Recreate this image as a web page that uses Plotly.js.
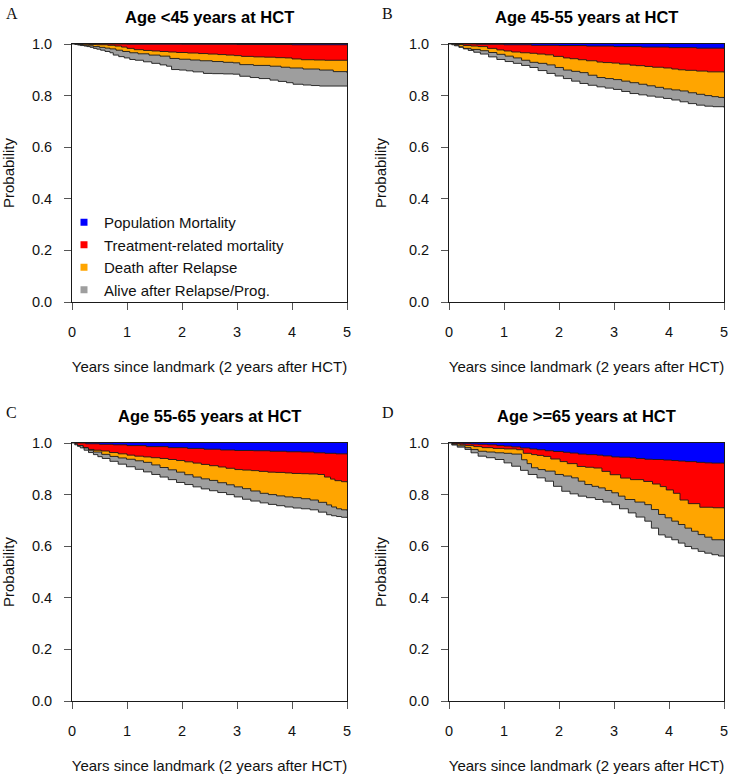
<!DOCTYPE html>
<html><head><meta charset="utf-8">
<script src="https://cdn.plot.ly/plotly-3.0.1.min.js"></script>
<style>html,body{margin:0;padding:0;background:#fff}#chart{width:730px;height:777px}</style>
</head><body><div id="chart"></div>
<script>
// ---- labels ----
const panelTitles = ['Age &lt;45 years at HCT', 'Age 45-55 years at HCT', 'Age 55-65 years at HCT', 'Age &gt;=65 years at HCT'];
const panelLetters = ['A', 'B', 'C', 'D'];
const legendLabels = ['Population Mortality', 'Treatment-related mortality', 'Death after Relapse', 'Alive after Relapse/Prog.'];
const xTickVals = [0, 1, 2, 3, 4, 5];
const yTickVals = [0, 0.2, 0.4, 0.6, 0.8, 1.0];
const yTickText = ['0.0', '0.2', '0.4', '0.6', '0.8', '1.0'];
const xTitle = 'Years since landmark (2 years after HCT)';
const yTitle = 'Probability';

// ---- Panel A: lower edges of the stacked bands (step curves) ----
const aPopT = [0, 1, 2, 3, 4, 5];
const aPopP = [1, 0.9995, 0.999, 0.998, 0.997, 0.997];
const aTrmT = [0, 0.15, 0.3, 0.45, 0.65, 0.78, 0.9, 1.0, 1.13, 1.3, 1.45, 1.6, 1.75, 1.9, 2.1, 2.3, 2.47, 2.65, 2.8, 2.95, 3.08, 3.3, 3.5, 3.7, 3.87, 4.0, 4.17, 4.4, 4.6, 5];
const aTrmP = [1, 0.999, 0.998, 0.997, 0.995, 0.992, 0.988, 0.983, 0.978, 0.975, 0.973, 0.971, 0.969, 0.967, 0.965, 0.963, 0.961, 0.959, 0.957, 0.955, 0.952, 0.950, 0.949, 0.947, 0.946, 0.942, 0.939, 0.938, 0.937, 0.937];
const aDarT = [0, 0.1, 0.2, 0.3, 0.39, 0.5, 0.6, 0.69, 0.8, 0.92, 1.05, 1.2, 1.4, 1.6, 1.78, 1.95, 2.15, 2.33, 2.55, 2.75, 2.93, 3.05, 3.3, 3.6, 3.8, 3.96, 4.2, 4.5, 4.75, 5];
const aDarP = [1, 0.998, 0.995, 0.993, 0.990, 0.987, 0.984, 0.981, 0.976, 0.971, 0.966, 0.962, 0.957, 0.953, 0.944, 0.941, 0.938, 0.935, 0.932, 0.929, 0.927, 0.920, 0.917, 0.914, 0.910, 0.907, 0.903, 0.899, 0.893, 0.888];
const aAlvT = [0, 0.05, 0.1, 0.15, 0.22, 0.27, 0.33, 0.39, 0.45, 0.52, 0.6, 0.69, 0.75, 0.85, 0.95, 1.05, 1.15, 1.3, 1.45, 1.6, 1.72, 1.81, 1.95, 2.08, 2.2, 2.39, 2.55, 2.75, 2.93, 3.05, 3.24, 3.4, 3.6, 3.75, 3.9, 4.02, 4.2, 4.35, 4.5, 5];
const aAlvP = [1, 0.998, 0.996, 0.994, 0.992, 0.990, 0.987, 0.983, 0.980, 0.976, 0.971, 0.966, 0.957, 0.951, 0.946, 0.940, 0.937, 0.931, 0.925, 0.919, 0.914, 0.901, 0.899, 0.896, 0.892, 0.886, 0.885, 0.884, 0.883, 0.875, 0.870, 0.866, 0.860, 0.855, 0.850, 0.844, 0.841, 0.839, 0.837, 0.837];

// ---- Panel B ----
const bPopT = [0, 0.5, 1, 1.5, 2, 2.5, 3, 3.5, 4, 4.5, 5];
const bPopP = [1, 0.999, 0.997, 0.995, 0.994, 0.992, 0.990, 0.988, 0.986, 0.984, 0.983];
const bTrmT = [0, 0.1, 0.26, 0.4, 0.53, 0.7, 0.87, 1.0, 1.14, 1.3, 1.47, 1.6, 1.75, 1.9, 2.08, 2.2, 2.35, 2.5, 2.69, 2.8, 2.96, 3.1, 3.29, 3.4, 3.56, 3.7, 3.9, 4.05, 4.17, 4.3, 4.5, 4.7, 5];
const bTrmP = [1, 0.998, 0.994, 0.992, 0.990, 0.983, 0.977, 0.973, 0.969, 0.966, 0.964, 0.961, 0.958, 0.952, 0.946, 0.943, 0.939, 0.935, 0.930, 0.928, 0.926, 0.922, 0.918, 0.916, 0.913, 0.910, 0.907, 0.903, 0.900, 0.898, 0.895, 0.892, 0.890];
const bDarT = [0, 0.05, 0.1, 0.18, 0.26, 0.4, 0.57, 0.72, 0.87, 1.02, 1.17, 1.32, 1.47, 1.62, 1.78, 1.93, 2.08, 2.23, 2.38, 2.53, 2.69, 2.84, 2.99, 3.14, 3.29, 3.45, 3.6, 3.75, 3.9, 4.05, 4.2, 4.35, 4.5, 4.65, 4.78, 4.9, 5];
const bDarP = [1, 0.997, 0.995, 0.989, 0.983, 0.979, 0.974, 0.967, 0.960, 0.953, 0.946, 0.937, 0.929, 0.925, 0.919, 0.909, 0.899, 0.894, 0.889, 0.879, 0.870, 0.866, 0.862, 0.856, 0.850, 0.844, 0.838, 0.832, 0.826, 0.822, 0.818, 0.811, 0.805, 0.800, 0.796, 0.793, 0.790];
const bAlvT = [0, 0.05, 0.1, 0.18, 0.26, 0.35, 0.45, 0.57, 0.72, 0.87, 1.02, 1.17, 1.32, 1.47, 1.62, 1.78, 1.93, 2.08, 2.23, 2.38, 2.53, 2.69, 2.84, 2.99, 3.14, 3.29, 3.45, 3.6, 3.75, 3.9, 4.05, 4.2, 4.35, 4.5, 4.65, 4.8, 5];
const bAlvP = [1, 0.997, 0.993, 0.987, 0.981, 0.975, 0.968, 0.961, 0.950, 0.940, 0.932, 0.925, 0.917, 0.909, 0.897, 0.886, 0.876, 0.866, 0.856, 0.847, 0.840, 0.834, 0.829, 0.824, 0.816, 0.808, 0.803, 0.798, 0.794, 0.789, 0.783, 0.776, 0.769, 0.763, 0.759, 0.757, 0.754];

// ---- Panel C ----
const cPopT = [0, 0.25, 0.5, 0.75, 1, 1.35, 1.75, 2.1, 2.4, 2.7, 2.96, 3.3, 3.6, 3.9, 4.17, 4.4, 4.6, 4.8, 5];
const cPopP = [1, 0.997, 0.995, 0.993, 0.990, 0.986, 0.982, 0.979, 0.976, 0.973, 0.971, 0.970, 0.968, 0.966, 0.965, 0.962, 0.960, 0.958, 0.957];
const cTrmT = [0, 0.05, 0.1, 0.2, 0.29, 0.4, 0.53, 0.68, 0.84, 1.0, 1.14, 1.3, 1.44, 1.6, 1.75, 1.9, 2.05, 2.2, 2.35, 2.5, 2.66, 2.8, 2.96, 3.1, 3.26, 3.4, 3.56, 3.7, 3.87, 4.0, 4.17, 4.3, 4.47, 4.59, 4.7, 4.78, 4.9, 5];
const cTrmP = [1, 0.996, 0.990, 0.982, 0.975, 0.972, 0.969, 0.963, 0.958, 0.953, 0.949, 0.946, 0.943, 0.940, 0.936, 0.932, 0.927, 0.922, 0.917, 0.912, 0.907, 0.902, 0.897, 0.895, 0.893, 0.890, 0.887, 0.886, 0.884, 0.882, 0.881, 0.880, 0.878, 0.868, 0.860, 0.854, 0.850, 0.848];
const cDarT = [0, 0.05, 0.1, 0.2, 0.3, 0.39, 0.54, 0.69, 0.84, 0.99, 1.15, 1.3, 1.45, 1.6, 1.75, 1.9, 2.05, 2.2, 2.35, 2.5, 2.65, 2.81, 2.95, 3.1, 3.25, 3.42, 3.57, 3.72, 3.87, 4.02, 4.17, 4.33, 4.48, 4.63, 4.72, 4.81, 4.9, 5];
const cDarP = [1, 0.995, 0.990, 0.981, 0.972, 0.965, 0.956, 0.948, 0.942, 0.937, 0.931, 0.925, 0.915, 0.905, 0.896, 0.887, 0.877, 0.868, 0.861, 0.855, 0.846, 0.838, 0.830, 0.823, 0.814, 0.805, 0.800, 0.795, 0.791, 0.788, 0.784, 0.779, 0.770, 0.760, 0.752, 0.745, 0.741, 0.738];
const cAlvT = [0, 0.05, 0.1, 0.15, 0.22, 0.3, 0.39, 0.47, 0.55, 0.69, 0.84, 0.99, 1.15, 1.3, 1.45, 1.6, 1.75, 1.9, 2.05, 2.2, 2.35, 2.5, 2.65, 2.81, 2.95, 3.1, 3.25, 3.42, 3.57, 3.72, 3.87, 4.02, 4.17, 4.33, 4.48, 4.63, 4.72, 4.81, 4.9, 5];
const cAlvP = [1, 0.993, 0.987, 0.981, 0.972, 0.963, 0.955, 0.947, 0.940, 0.929, 0.918, 0.908, 0.898, 0.888, 0.878, 0.868, 0.858, 0.847, 0.839, 0.830, 0.822, 0.815, 0.808, 0.800, 0.791, 0.782, 0.775, 0.768, 0.762, 0.757, 0.752, 0.748, 0.745, 0.741, 0.732, 0.722, 0.718, 0.715, 0.712, 0.710];

// ---- Panel D ----
const dPopT = [0, 0.13, 0.26, 0.4, 0.53, 0.7, 0.87, 1.0, 1.14, 1.3, 1.47, 1.6, 1.75, 1.9, 2.08, 2.2, 2.35, 2.5, 2.69, 2.8, 2.96, 3.1, 3.29, 3.4, 3.56, 3.7, 3.9, 4.05, 4.17, 4.3, 4.5, 4.65, 4.78, 5];
const dPopP = [1, 0.999, 0.997, 0.996, 0.995, 0.993, 0.990, 0.988, 0.985, 0.981, 0.977, 0.974, 0.970, 0.967, 0.964, 0.961, 0.957, 0.955, 0.953, 0.950, 0.946, 0.945, 0.943, 0.940, 0.937, 0.936, 0.934, 0.932, 0.930, 0.928, 0.925, 0.923, 0.922, 0.921];
const dTrmT = [0, 0.05, 0.1, 0.2, 0.3, 0.45, 0.6, 0.8, 1.0, 1.23, 1.35, 1.5, 1.6, 1.72, 1.85, 2.02, 2.15, 2.33, 2.48, 2.63, 2.78, 2.93, 3.12, 3.3, 3.54, 3.7, 3.84, 3.95, 4.08, 4.2, 4.35, 4.56, 4.8, 5];
const dTrmP = [1, 0.998, 0.996, 0.993, 0.990, 0.986, 0.982, 0.979, 0.977, 0.974, 0.960, 0.955, 0.952, 0.948, 0.938, 0.928, 0.920, 0.909, 0.906, 0.903, 0.890, 0.877, 0.864, 0.858, 0.851, 0.841, 0.831, 0.818, 0.805, 0.779, 0.765, 0.751, 0.749, 0.747];
const dDarT = [0, 0.05, 0.15, 0.29, 0.4, 0.53, 0.68, 0.84, 1.0, 1.14, 1.32, 1.42, 1.5, 1.62, 1.75, 1.93, 2.08, 2.23, 2.35, 2.47, 2.6, 2.72, 2.84, 2.96, 3.08, 3.2, 3.38, 3.56, 3.68, 3.81, 3.93, 4.05, 4.17, 4.29, 4.41, 4.53, 4.65, 4.78, 5];
const dDarP = [1, 0.995, 0.989, 0.982, 0.975, 0.968, 0.965, 0.962, 0.960, 0.957, 0.935, 0.920, 0.904, 0.897, 0.891, 0.878, 0.872, 0.865, 0.852, 0.839, 0.832, 0.826, 0.816, 0.807, 0.794, 0.781, 0.771, 0.761, 0.742, 0.723, 0.710, 0.697, 0.684, 0.670, 0.658, 0.645, 0.635, 0.625, 0.621];
const dAlvT = [0, 0.05, 0.15, 0.29, 0.4, 0.53, 0.68, 0.84, 1.0, 1.14, 1.3, 1.44, 1.6, 1.75, 1.9, 2.05, 2.2, 2.35, 2.5, 2.66, 2.8, 2.96, 3.1, 3.26, 3.4, 3.56, 3.68, 3.81, 3.93, 4.05, 4.17, 4.29, 4.41, 4.53, 4.65, 4.78, 4.9, 5];
const dAlvP = [1, 0.992, 0.984, 0.975, 0.962, 0.949, 0.943, 0.936, 0.923, 0.910, 0.894, 0.878, 0.865, 0.852, 0.832, 0.813, 0.803, 0.794, 0.788, 0.781, 0.771, 0.761, 0.745, 0.729, 0.713, 0.697, 0.670, 0.644, 0.635, 0.625, 0.612, 0.599, 0.590, 0.580, 0.573, 0.567, 0.562, 0.560];

const bandColors = ['#0000FF', '#FF0000', '#FFA500', '#9E9E9E'];
const efsColor = '#FFFFFF';

const panelCurves = [
  [[aPopT, aPopP], [aTrmT, aTrmP], [aDarT, aDarP], [aAlvT, aAlvP]],
  [[bPopT, bPopP], [bTrmT, bTrmP], [bDarT, bDarP], [bAlvT, bAlvP]],
  [[cPopT, cPopP], [cTrmT, cTrmP], [cDarT, cDarP], [cAlvT, cAlvP]],
  [[dPopT, dPopP], [dTrmT, dTrmP], [dDarT, dDarP], [dAlvT, dAlvP]]
];

// ---- geometry (pixels) ----
const W = 730, H = 777;
const colX = [[72, 347], [449, 724]];
const rowY = [[44, 302], [443, 701]]; // top (1.0), bottom (0.0)
const FONT = 'Liberation Sans, Arial, Helvetica, sans-serif';
const lineCol = '#1a1a1a';

const traces = [];
panelCurves.forEach((curves, i) => {
  const sfx = i === 0 ? '' : String(i + 1);
  const xa = 'x' + sfx, ya = 'y' + sfx;
  // top band base (probability 1 across the whole span)
  traces.push({
    x: curves[0][0], y: curves[0][0].map(() => 1), xaxis: xa, yaxis: ya,
    mode: 'lines', line: {width: 0, shape: 'hv'}, fill: 'tozeroy', fillcolor: bandColors[0],
    showlegend: false, hoverinfo: 'skip'
  });
  curves.forEach((c, k) => {
    traces.push({
      x: c[0], y: c[1], xaxis: xa, yaxis: ya,
      mode: 'lines', line: {color: lineCol, width: 0.9, shape: 'hv'},
      fill: 'tozeroy', fillcolor: k < 3 ? bandColors[k + 1] : efsColor,
      showlegend: false, hoverinfo: 'skip'
    });
  });
});
legendLabels.forEach((lab, k) => {
  traces.push({
    x: [null], y: [null], xaxis: 'x', yaxis: 'y', mode: 'markers', name: lab,
    marker: {symbol: 'square', size: 7, color: bandColors[k]}, showlegend: true
  });
});

const layout = {
  width: W, height: H, margin: {l: 0, r: 0, t: 0, b: 0},
  paper_bgcolor: '#fff', plot_bgcolor: '#fff', showlegend: true,
  legend: {
    x: 64 / W, y: 1 - 206 / H, xanchor: 'left', yanchor: 'top',
    bgcolor: 'rgba(0,0,0,0)', font: {family: FONT, size: 15, color: '#111'},
    tracegroupgap: 0, itemwidth: 30
  },
  annotations: []
};

for (let i = 0; i < 4; i++) {
  const sfx = i === 0 ? '' : String(i + 1);
  const cx = colX[i % 2], ry = rowY[Math.floor(i / 2)];
  layout['xaxis' + sfx] = {
    domain: [cx[0] / W, cx[1] / W], anchor: 'y' + sfx, range: [0, 5],
    tickvals: xTickVals, ticks: 'outside', ticklen: 7, tickcolor: '#555', tickwidth: 1,
    showline: true, linecolor: lineCol, linewidth: 1, mirror: true,
    showgrid: false, zeroline: false, fixedrange: true,
    tickfont: {family: FONT, size: 14.5, color: '#111'}, ticklabelstandoff: 10,
    title: {text: xTitle, font: {family: FONT, size: 15, color: '#111'}, standoff: 22}
  };
  layout['yaxis' + sfx] = {
    domain: [1 - ry[1] / H, 1 - ry[0] / H], anchor: 'x' + sfx, range: [0, 1],
    tickvals: yTickVals, ticktext: yTickText, ticks: 'outside', ticklen: 7, tickcolor: '#555', tickwidth: 1,
    showline: true, linecolor: lineCol, linewidth: 1, mirror: true,
    showgrid: false, zeroline: false, fixedrange: true,
    tickfont: {family: FONT, size: 14.5, color: '#111'}, ticklabelstandoff: 9,
    title: {text: yTitle, font: {family: FONT, size: 15, color: '#111'}, standoff: 18}
  };
  layout.annotations.push({
    text: '<b>' + panelTitles[i] + '</b>', xref: 'paper', yref: 'paper',
    x: (cx[0] + cx[1]) / 2 / W, y: 1 - (ry[0] - 27) / H, xanchor: 'center', yanchor: 'middle',
    showarrow: false, font: {family: FONT, size: 16.5, color: '#000'}
  });
  layout.annotations.push({
    text: panelLetters[i], xref: 'paper', yref: 'paper',
    x: (i % 2 === 0 ? 4 : 380) / W, y: 1 - (ry[0] - 31) / H, xanchor: 'left', yanchor: 'middle',
    showarrow: false, font: {family: 'Liberation Serif, Times New Roman, serif', size: 16, color: '#111'}
  });
}

Plotly.newPlot('chart', traces, layout, {staticPlot: true, displayModeBar: false});
</script>
</body></html>
